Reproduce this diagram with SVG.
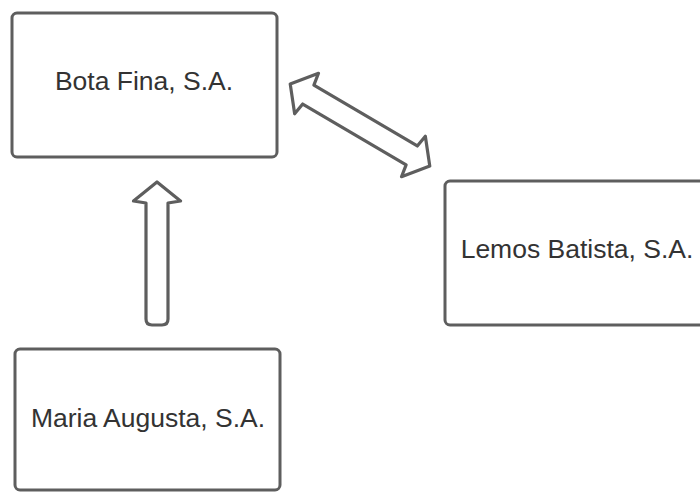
<svg xmlns="http://www.w3.org/2000/svg" width="700" height="492" viewBox="0 0 700 492">
  <style>
    .box { fill: #ffffff; stroke: #5e5e5e; stroke-width: 3; }
    .label { font-family: "Liberation Sans", Arial, sans-serif; font-size: 26.5px; fill: #333333; text-anchor: middle; }
    .arrow { fill: #ffffff; stroke: #5e5e5e; stroke-width: 3.2; stroke-linejoin: round; }
  </style>
  <rect width="700" height="492" fill="#ffffff"/>
  <g id="node-bota-fina">
    <rect class="box" x="12" y="13" width="265" height="144" rx="5"/>
    <text class="label" x="144" y="90">Bota Fina, S.A.</text>
  </g>
  <g id="node-lemos-batista">
    <rect class="box" x="445" y="181" width="265" height="144" rx="5"/>
    <text class="label" x="577" y="258">Lemos Batista, S.A.</text>
  </g>
  <g id="node-maria-augusta">
    <rect class="box" x="15" y="349" width="265" height="141" rx="5"/>
    <text class="label" x="148" y="427">Maria Augusta, S.A.</text>
  </g>
  <g id="connectors">
    <path class="arrow" d="M157,182 L180.5,201 L168,203 L168,319 Q168,325 162,325 L152,325 Q146,325 146,319 L146,203 L133.5,201 Z"/>
    <path class="arrow" transform="translate(360,125) rotate(30.5)" d="M-81,0 L-62,-23.5 L-60,-11 L60,-11 L62,-23.5 L81,0 L62,23.5 L60,11 L-60,11 L-62,23.5 Z"/>
  </g>
</svg>
